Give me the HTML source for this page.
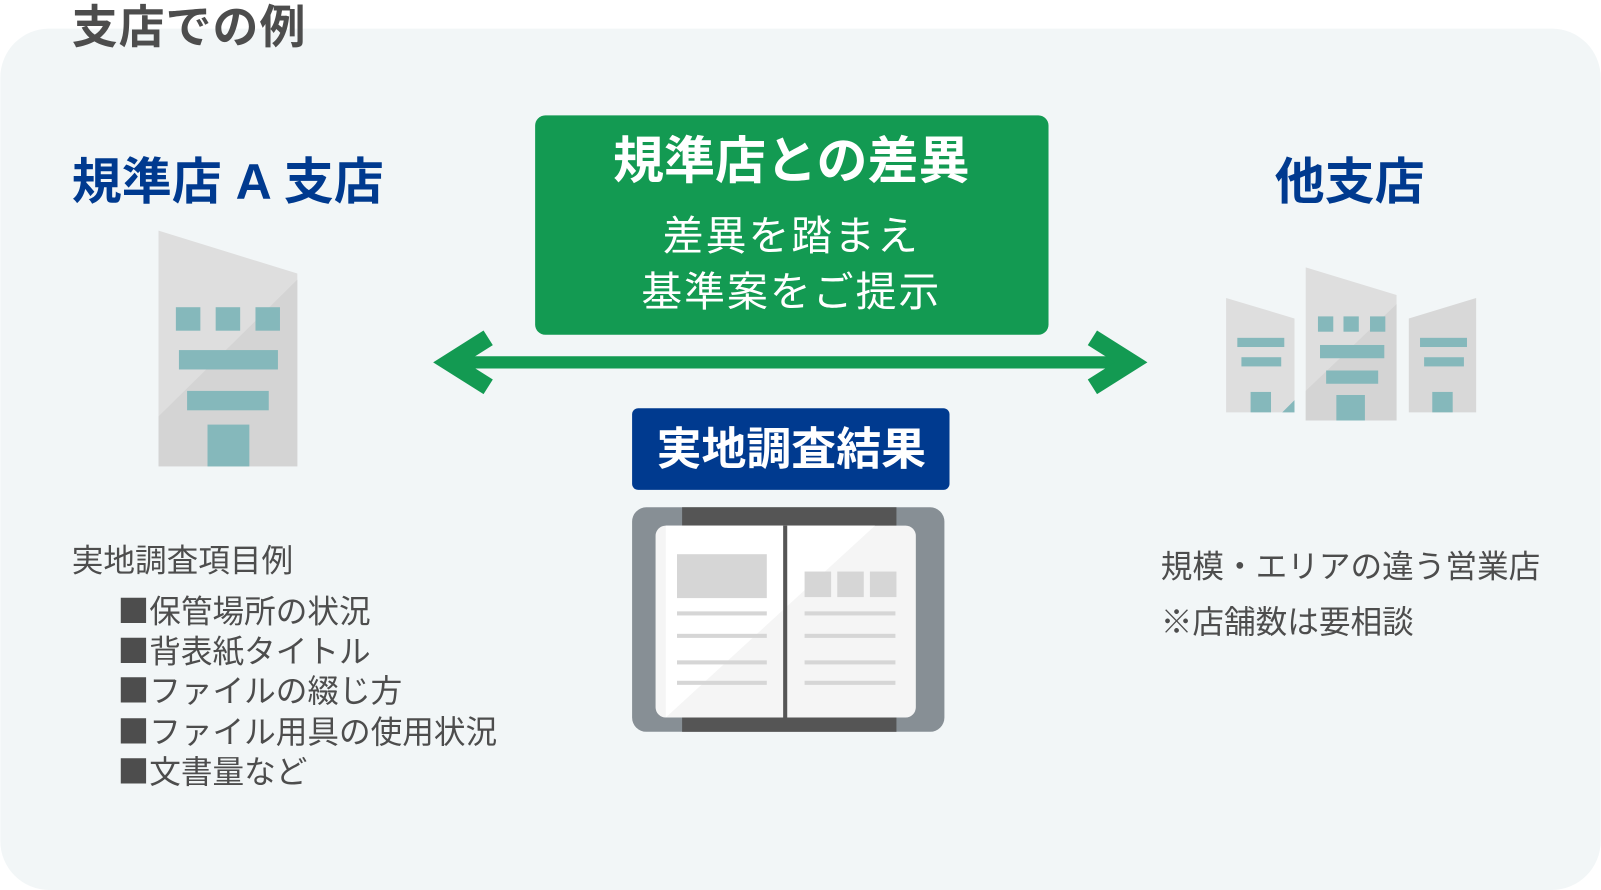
<!DOCTYPE html>
<html><head><meta charset="utf-8"><style>
html,body{margin:0;padding:0;background:#fff;}
svg{display:block;}
text{font-family:"Liberation Sans","Noto Sans CJK JP",sans-serif;}
.cj{font-family:"Noto Sans CJK JP",sans-serif;}
</style></head><body>
<svg width="1601" height="890" viewBox="0 0 1568 872" xmlns="http://www.w3.org/2000/svg">
<rect x="0" y="28" width="1568" height="844" rx="48" fill="#f2f6f7"/>
<text x="70" y="42" font-size="45" font-weight="bold" fill="#4d4d4d" letter-spacing="1">支店での例</text>
<text x="70" y="195" font-size="49" font-weight="bold" fill="#003a8f">規準店 A 支店</text>
<!-- left building -->
<polygon points="155,226 291,268 291,457 155,457" fill="#dedede"/>
<polygon points="291,274 291,457 155,457 155,408" fill="#d4d4d4"/>
<g fill="#85b8bb">
<rect x="172" y="301" width="24" height="23"/><rect x="211" y="301" width="24" height="23"/><rect x="250" y="301" width="24" height="23"/>
<rect x="175" y="343" width="97" height="19"/><rect x="183" y="383" width="80" height="19"/><rect x="203" y="416" width="41" height="41"/>
</g>
<!-- green box -->
<rect x="524" y="113" width="503" height="215" rx="10" fill="#139a52"/>
<text x="775" y="175" font-size="50" font-weight="bold" fill="#fff" text-anchor="middle">規準店との差異</text>
<text x="775" y="245" font-size="40" fill="#fff" text-anchor="middle" letter-spacing="2">差異を踏まえ</text>
<text x="775" y="300" font-size="40" fill="#fff" text-anchor="middle" letter-spacing="2">基準案をご提示</text>
<!-- arrow -->
<line x1="440" y1="355" x2="1105" y2="355" stroke="#139a52" stroke-width="12"/>
<polyline points="478,331 440,355 478,379" fill="none" stroke="#139a52" stroke-width="17"/>
<polyline points="1070,331 1108,355 1070,379" fill="none" stroke="#139a52" stroke-width="17"/>
<!-- navy box -->
<rect x="619" y="400" width="311" height="80" rx="6" fill="#003a8f"/>
<text x="775" y="455" font-size="44" font-weight="bold" fill="#fff" text-anchor="middle">実地調査結果</text>
<!-- book -->
<rect x="619" y="497" width="306" height="220" rx="14" fill="#878f95"/>
<rect x="668" y="497" width="210" height="220" fill="#555"/>
<rect x="642" y="515" width="255" height="188" rx="10" fill="#f5f5f5"/>
<polygon points="652,515 857,515 652,703" fill="#fff"/>
<rect x="767" y="515" width="4" height="188" fill="#555"/>
<g fill="#d6d6d6">
<rect x="663" y="543" width="88" height="43"/>
<rect x="663" y="599" width="88" height="4"/><rect x="663" y="621" width="88" height="4"/><rect x="663" y="647" width="88" height="4"/><rect x="663" y="667" width="88" height="4"/>
<rect x="788" y="560" width="26" height="25"/><rect x="820" y="560" width="26" height="25"/><rect x="852" y="560" width="26" height="25"/>
<rect x="788" y="599" width="89" height="4"/><rect x="788" y="621" width="89" height="4"/><rect x="788" y="647" width="89" height="4"/><rect x="788" y="667" width="89" height="4"/>
</g>
<!-- right -->
<text x="1322" y="195" font-size="49" font-weight="bold" fill="#003a8f" text-anchor="middle">他支店</text>
<polygon points="1201,292 1268,312 1268,404 1201,404" fill="#dedede"/>
<polygon points="1279,262 1368,289 1368,412 1279,412" fill="#dedede"/>
<polygon points="1368,298 1368,412 1279,412 1279,383" fill="#d4d4d4"/>
<polygon points="1380,312 1446,292 1446,404 1380,404" fill="#d8d8d8"/>
<g fill="#85b8bb">
<rect x="1212" y="331" width="46" height="9"/><rect x="1216" y="350" width="39" height="9"/><rect x="1225" y="384" width="20" height="20"/>
<polygon points="1256,404 1268,392 1268,404"/>
<rect x="1291" y="310" width="15" height="15"/><rect x="1316" y="310" width="15" height="15"/><rect x="1342" y="310" width="15" height="15"/>
<rect x="1293" y="338" width="63" height="13"/><rect x="1299" y="363" width="51" height="13"/><rect x="1309" y="387" width="28" height="25"/>
<rect x="1391" y="331" width="46" height="9"/><rect x="1395" y="350" width="39" height="9"/><rect x="1403" y="384" width="20" height="20"/>
</g>
<g font-size="31" fill="#4d4d4d" class="cj">
<text class="cj" x="1137" y="566">規模・エリアの違う営業店</text>
<text class="cj" x="1137" y="620">※店舗数は要相談</text>
<text class="cj" x="70" y="560">実地調査項目例</text>
<text class="cj" x="115" y="610">■保管場所の状況</text>
<text class="cj" x="115" y="649">■背表紙タイトル</text>
<text class="cj" x="115" y="688">■ファイルの綴じ方</text>
<text class="cj" x="115" y="728">■ファイル用具の使用状況</text>
<text class="cj" x="115" y="767">■文書量など</text>
</g>
</svg>
</body></html>
